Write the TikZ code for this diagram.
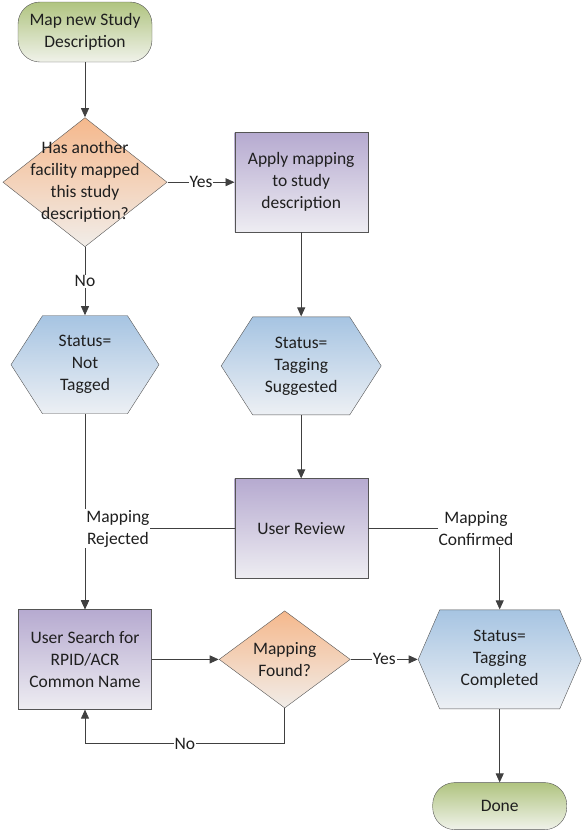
\documentclass[tikz,border=0pt]{standalone}
\usepackage{fontspec}
\setmainfont{Carlito}
\usetikzlibrary{positioning,arrows.meta}

\definecolor{edgegray}{RGB}{85,85,85}
\definecolor{linegray}{RGB}{64,64,64}
\definecolor{termtop}{RGB}{176,196,128}
\definecolor{termbot}{RGB}{240,242,234}
\definecolor{dectop}{RGB}{245,184,140}
\definecolor{decbot}{RGB}{241,237,233}
\definecolor{proctop}{RGB}{182,170,208}
\definecolor{procbot}{RGB}{238,237,242}
\definecolor{hextop}{RGB}{166,196,226}
\definecolor{hexbot}{RGB}{237,240,244}

\begin{document}
\begin{tikzpicture}[x=1pt,y=1pt,
   every node/.style={font=\fontsize{17.5}{22}\selectfont,text=black!88},
   termbox/.style={draw=edgegray,rounded corners=22pt,top color=termtop,bottom color=termbot,
     minimum width=134pt,inner sep=0pt,align=center},
   procbox/.style={draw=edgegray,top color=proctop,bottom color=procbot,
     minimum width=133pt,minimum height=100pt,inner sep=0pt,align=center},
   decbox/.style={inner sep=0pt,outer sep=0pt,align=center,
     path picture={\shadedraw[draw=edgegray,top color=dectop,bottom color=decbot]
       ([yshift=-.5pt]path picture bounding box.north) -- ([xshift=-.5pt]path picture bounding box.east)
       -- ([yshift=.5pt]path picture bounding box.south) -- ([xshift=.5pt]path picture bounding box.west) -- cycle;}},
   hexbox/.style={inner sep=0pt,outer sep=0pt,align=center,minimum height=99pt,
     path picture={\shadedraw[draw=edgegray,top color=hextop,bottom color=hexbot]
       ([shift={(#1,-.5pt)}]path picture bounding box.north west) -- ([shift={(-#1,-.5pt)}]path picture bounding box.north east)
       -- ([xshift=-.5pt]path picture bounding box.east) -- ([shift={(-#1,.5pt)}]path picture bounding box.south east)
       -- ([shift={(#1,.5pt)}]path picture bounding box.south west) -- ([xshift=.5pt]path picture bounding box.west) -- cycle;}},
   hexbox/.default=32pt,
   flow/.style={draw=linegray,line width=.8pt,-{Triangle[length=9pt,width=8pt]}},
   lbl/.style={fill=white,inner sep=1pt,align=center}]
  \useasboundingbox (0,0) rectangle (583,-831);

  \node[termbox,minimum height=60pt] (start) at (85,-32) {Map new Study\\Description};
  \node[decbox,minimum width=165pt,minimum height=130pt] (mapped) [below=55pt of start]
    {Has another\\facility mapped\\this study\\description?};
  \node[procbox] (apply) [right=67pt of mapped] {Apply mapping\\to study\\description};
  \node[hexbox,minimum width=149pt] (nottag) [below=68pt of mapped] {Status=\\Not\\Tagged};
  \node[hexbox,minimum width=161pt] (suggest) [below=84pt of apply] {Status=\\Tagging\\Suggested};
  \node[procbox] (review) [below=63pt of suggest] {User Review};
  \node[procbox] (search) [below=195pt of nottag] {User Search for\\RPID/ACR\\Common Name};
  \node[decbox,minimum width=132pt,minimum height=98pt] (found) [right=67pt of search] {Mapping\\Found?};
  \node[hexbox=22pt,minimum width=164pt,minimum height=100pt] (complete) [right=67pt of found]
    {Status=\\Tagging\\Completed};
  \node[termbox,minimum height=47pt] (done) [below=73pt of complete] {Done};

  \draw[flow] (start) -- (mapped);
  \draw[flow] (mapped) -- node[lbl]{Yes} (apply);
  \draw[flow] (mapped) -- node[lbl]{No} (nottag);
  \draw[flow] (apply) -- (suggest);
  \draw[flow] (suggest) -- (review);
  \draw[flow] (nottag) -- (search);
  \draw[flow] (review.west) -| node[lbl,pos=.39]{Mapping\\Rejected} (search.north);
  \draw[flow] (review.east) -| node[lbl,pos=.41]{Mapping\\Confirmed} (complete.north);
  \draw[flow] (search) -- (found);
  \draw[flow] (found) -- node[lbl]{Yes} (complete);
  \draw[flow] (found.south) |- node[lbl,pos=.75]{No} ([yshift=-34pt]search.south) -- (search.south);
  \draw[flow] (complete) -- (done);
\end{tikzpicture}
\end{document}
